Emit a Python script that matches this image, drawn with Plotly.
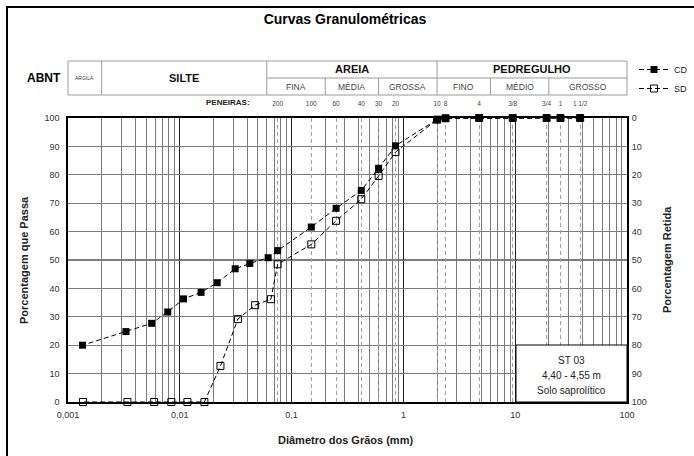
import plotly.graph_objects as go
import math

# ---- data -------------------------------------------------------------
# grain diameters (mm) and percent passing, with dispersant (CD)
diam_cd = [38.1, 25.4, 19.1, 9.5, 4.76, 2.38, 2.0, 0.85, 0.6, 0.42, 0.25, 0.15, 0.075,
           0.0617, 0.0423, 0.0313, 0.0216, 0.0155, 0.0108, 0.0078, 0.0056, 0.0033, 0.00135]
pass_cd = [100, 100, 100, 100, 100, 99.9, 99.5, 90.2, 82.3, 74.5, 68.2, 61.6, 53.3,
           50.8, 48.8, 46.9, 42.0, 38.6, 36.3, 31.7, 27.7, 24.8, 20.0]

# without dispersant (SD)
diam_sd = [38.1, 25.4, 19.1, 9.5, 4.76, 2.38, 2.0, 0.85, 0.6, 0.42, 0.25, 0.15, 0.075,
           0.0653, 0.0472, 0.0331, 0.0231, 0.0166, 0.0117, 0.0084, 0.0059, 0.0034, 0.00136]
pass_sd = [100, 100, 100, 100, 100, 99.9, 99.4, 88.0, 79.6, 71.4, 63.8, 55.5, 48.5,
           36.2, 34.1, 29.2, 12.7, 0, 0, 0, 0, 0, 0]

# sieve openings (mm) and their names
sieve_mm = [0.075, 0.15, 0.25, 0.42, 0.6, 0.85, 2.0, 2.38, 4.76, 9.5, 19.1, 25.4, 38.1]
sieve_labels = ["200", "100", "60", "40", "30", "20", "10", "8", "4", "3/8", "3/4", "1", "1 1/2"]

# axis ticks
x_ticks = [0.001, 0.01, 0.1, 1, 10, 100]
x_tick_labels = ["0,001", "0,01", "0,1", "1", "10", "100"]
y_ticks = list(range(0, 101, 10))

# ABNT classification limits (mm)
class_limits = [0.001, 0.002, 0.06, 0.2, 0.6, 2.0, 6.0, 20.0, 100.0]
main_classes = [("ARGILA", 0.001, 0.002), ("SILTE", 0.002, 0.06),
                ("AREIA", 0.06, 2.0), ("PEDREGULHO", 2.0, 100.0)]
sub_classes = [("FINA", 0.06, 0.2), ("MÉDIA", 0.2, 0.6), ("GROSSA", 0.6, 2.0),
               ("FINO", 2.0, 6.0), ("MÉDIO", 6.0, 20.0), ("GROSSO", 20.0, 100.0)]

sample_lines = ["ST 03", "4,40 - 4,55 m", "Solo saprolítico"]

# ---- layout geometry ----------------------------------------------------
W, H = 694, 456
ML, MR, MT, MB = 68, 67, 118, 54
PW, PH = W - ML - MR, H - MT - MB
X_RANGE = [-3, 2]
FONT = "Liberation Sans, Arial, sans-serif"


def px_x(d):
    """diameter -> paper x"""
    return (math.log10(d) - X_RANGE[0]) / (X_RANGE[1] - X_RANGE[0])


def py(ypix):
    """pixel row -> paper y"""
    return (H - MB - ypix) / PH


def pxp(xpix):
    """pixel column -> paper x"""
    return (xpix - ML) / PW


def label(text, x, y, size, color="#222", **kw):
    d = dict(text=text, x=x, y=y, xref="paper", yref="paper", showarrow=False,
             xanchor="center", yanchor="middle", font=dict(size=size, color=color))
    d.update(kw)
    return d


minor_vals = [m * 10 ** e for e in range(-3, 2) for m in range(2, 10)]

fig = go.Figure()

fig.add_trace(go.Scatter(
    x=diam_sd, y=pass_sd, name="SD", mode="lines+markers",
    line=dict(color="black", width=1, dash="5px,3px"),
    marker=dict(symbol="square-open", size=7, color="black", line=dict(width=1)),
    cliponaxis=False, legendrank=2))
fig.add_trace(go.Scatter(
    x=diam_cd, y=pass_cd, name="CD", mode="lines+markers",
    line=dict(color="black", width=1, dash="5px,3px"),
    marker=dict(symbol="square", size=7, color="black"),
    cliponaxis=False, legendrank=1))
# carrier for the sieve axis and the retained-percentage axis
fig.add_trace(go.Scatter(
    x=diam_cd, y=[100 - p for p in pass_cd], xaxis="x2", yaxis="y2",
    mode="none", showlegend=False, hoverinfo="skip"))

shapes = []
# outer frame
shapes.append(dict(type="rect", xref="paper", yref="paper",
                   x0=pxp(7), x1=pxp(W + 20), y0=py(H + 20), y1=py(7),
                   line=dict(color="black", width=2), fillcolor="rgba(0,0,0,0)"))
# darker 50 % line
shapes.append(dict(type="line", xref="paper", yref="y", x0=0, x1=1, y0=50, y1=50,
                   line=dict(color="black", width=1), layer="below"))

# ABNT classification table
t_top, t_mid, t_bot = py(61), py(78), py(95)
tbl = dict(color="#9a9a9a", width=1)
shapes.append(dict(type="line", xref="paper", yref="paper", x0=px_x(class_limits[0]),
                   x1=px_x(class_limits[-1]), y0=t_top, y1=t_top, line=tbl))
shapes.append(dict(type="line", xref="paper", yref="paper", x0=px_x(class_limits[0]),
                   x1=px_x(class_limits[-1]), y0=t_bot, y1=t_bot, line=tbl))
shapes.append(dict(type="line", xref="paper", yref="paper", x0=px_x(0.06),
                   x1=px_x(class_limits[-1]), y0=t_mid, y1=t_mid, line=tbl))
full_height = {0.001, 0.002, 0.06, 2.0, 100.0}
for lim in class_limits:
    y1 = t_top if lim in full_height else t_mid
    shapes.append(dict(type="line", xref="paper", yref="paper", x0=px_x(lim), x1=px_x(lim),
                       y0=t_bot, y1=y1, line=tbl))

# sample identification box
shapes.append(dict(type="rect", xref="paper", yref="paper", x0=pxp(516), x1=1,
                   y0=0, y1=py(345), line=dict(color="black", width=1),
                   fillcolor="white", layer="above"))

ann = []
ann.append(label("<b>ABNT</b>", pxp(44), py(78), 12, "black"))
for name, a, b in main_classes:
    xc = (px_x(a) + px_x(b)) / 2
    if name == "ARGILA":
        ann.append(label(name, xc, (t_top + t_bot) / 2, 5, "#333"))
    elif name == "SILTE":
        ann.append(label("<b>" + name + "</b>", xc, (t_top + t_bot) / 2, 11, "#111"))
    else:
        ann.append(label("<b>" + name + "</b>", xc, (t_top + t_mid) / 2, 11, "#111"))
for name, a, b in sub_classes:
    xc = (px_x(a) + px_x(b)) / 2
    ann.append(label(name, xc, (t_mid + t_bot) / 2, 8.5, "#444"))

ann.append(label("<b>PENEIRAS:</b>", pxp(252), py(103), 8, "#222", xanchor="right"))

# axis titles
ann.append(label("<b>Porcentagem que Passa</b>", pxp(24), 0.5, 11, textangle=-90))
ann.append(label("<b>Porcentagem Retida</b>", pxp(667), 0.5, 11, textangle=-90))
ann.append(label("<b>Diâmetro dos Grãos (mm)</b>", pxp(345), py(440), 11))

for i, line in enumerate(sample_lines):
    ann.append(label(line, pxp(571), py(360 + 15 * i), 10, "#222"))

fig.update_layout(
    width=W, height=H,
    margin=dict(l=ML, r=MR, t=MT, b=MB, autoexpand=False),
    paper_bgcolor="white", plot_bgcolor="white",
    font=dict(family=FONT, color="#333"),
    title=dict(text="Curvas Granulométricas", x=345 / W, xref="container", xanchor="center",
               y=1 - 19 / H, yref="container", yanchor="middle",
               font=dict(size=14, color="black", weight="bold")),
    xaxis=dict(type="log", range=X_RANGE, tickvals=x_ticks, ticktext=x_tick_labels,
               showgrid=True, gridcolor="#222", gridwidth=1,
               minor=dict(tickvals=minor_vals, showgrid=True, gridcolor="#7a7a7a", gridwidth=1),
               showline=True, linecolor="black", linewidth=1.5, mirror=True,
               ticks="outside", ticklen=3, tickcolor="rgba(0,0,0,0)",
               tickfont=dict(size=9, color="#333"), zeroline=False),
    xaxis2=dict(type="log", range=X_RANGE, overlaying="x", side="top",
                tickvals=sieve_mm, ticktext=sieve_labels,
                showgrid=True, gridcolor="#a0a0a0", griddash="4px,3px", gridwidth=1,
                ticks="outside", ticklen=8, tickcolor="rgba(0,0,0,0)",
                tickfont=dict(size=6.5, color="#444"), showline=False, zeroline=False),
    yaxis=dict(range=[0, 100], tickvals=y_ticks, showgrid=True, gridcolor="#7a7a7a",
               showline=True, linecolor="black", linewidth=1.5, mirror=True,
               ticks="outside", ticklen=5, tickcolor="rgba(0,0,0,0)",
               tickfont=dict(size=9, color="#333"), zeroline=False),
    yaxis2=dict(range=[100, 0], overlaying="y", side="right", tickvals=y_ticks,
                showgrid=False, zeroline=False, showline=False,
                ticks="outside", ticklen=2, tickcolor="rgba(0,0,0,0)",
                tickfont=dict(size=9, color="#333")),
    legend=dict(x=pxp(634), y=py(55), xanchor="left", yanchor="top",
                bgcolor="rgba(0,0,0,0)", font=dict(size=9, color="#222"),
                itemwidth=30, tracegroupgap=0),
    shapes=shapes, annotations=ann, showlegend=True,
)

fig.write_html("out.html")
